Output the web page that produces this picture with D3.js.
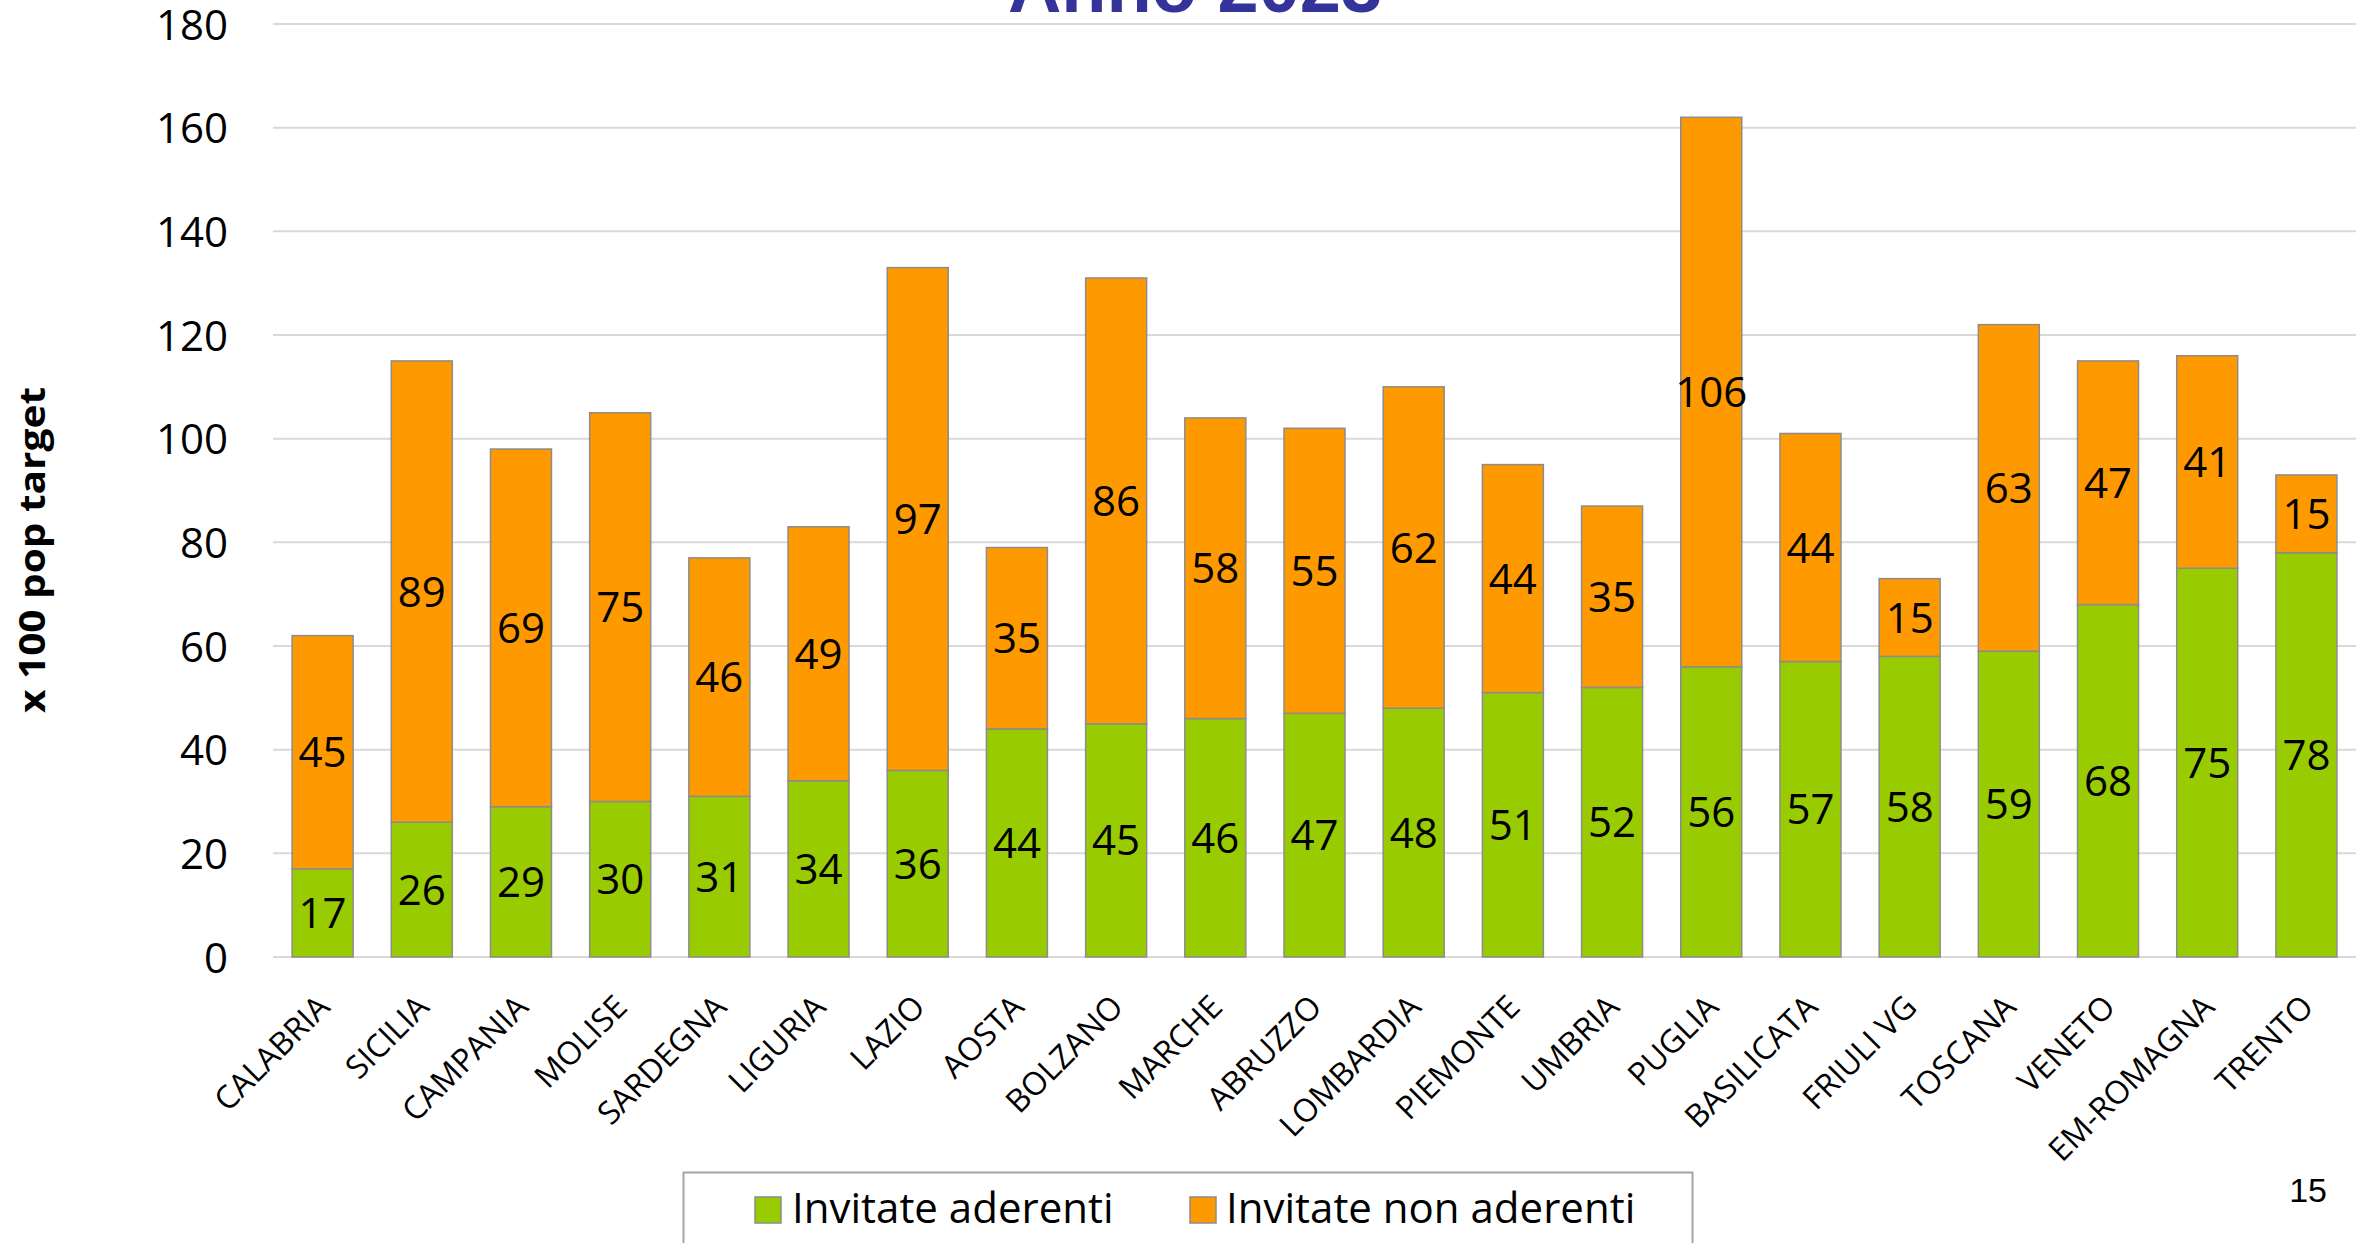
<!DOCTYPE html>
<html>
<head>
<meta charset="utf-8">
<script src="https://cdn.jsdelivr.net/npm/d3@7"></script>
<style>
  html, body { margin: 0; padding: 0; background: #fff; }
  svg { display: block; }
</style>
</head>
<body>
<svg id="chart" width="2371" height="1243"></svg>
<script>
// ---- Data ----
const categories = ["CALABRIA","SICILIA","CAMPANIA","MOLISE","SARDEGNA","LIGURIA","LAZIO","AOSTA","BOLZANO","MARCHE","ABRUZZO","LOMBARDIA","PIEMONTE","UMBRIA","PUGLIA","BASILICATA","FRIULI VG","TOSCANA","VENETO","EM-ROMAGNA","TRENTO"];
const aderenti    = [17,26,29,30,31,34,36,44,45,46,47,48,51,52,56,57,58,59,68,75,78];
const nonAderenti = [45,89,69,75,46,49,97,35,86,58,55,62,44,35,106,44,15,63,47,41,15];
const seriesNames = ["Invitate aderenti","Invitate non aderenti"];
const yTicks = [0,20,40,60,80,100,120,140,160,180];
const titleText = "Anno 2023";
const yTitle = "x 100 pop target";
const pageNumber = "15";

// ---- Layout ----
const W = 2371, H = 1243;
const plot = { left: 273, right: 2356, top: 24, bottom: 957 };
const colors = ["#99cc00", "#ff9900"];
const FONT = "'Open Sans', 'Noto Sans', sans-serif";

const svg = d3.select("#chart");

const x = d3.scaleBand().domain(categories).range([plot.left, plot.right]).paddingInner(0.385).paddingOuter(0.1925);
const y = d3.scaleLinear().domain([0, 180]).range([plot.bottom, plot.top]);

// Title (cut off at top)
svg.append("text")
  .attr("x", 1195).attr("y", 12)
  .attr("text-anchor", "middle")
  .attr("font-family", "'Liberation Sans', Arial, sans-serif")
  .attr("font-weight", "bold")
  .attr("font-size", 74)
  .attr("fill", "#333399")
  .text(titleText);

// Grid lines
svg.append("g").selectAll("line").data(yTicks).join("line")
  .attr("x1", plot.left).attr("x2", plot.right)
  .attr("y1", d => y(d)).attr("y2", d => y(d))
  .attr("stroke", "#d9d9d9").attr("stroke-width", 2);

// Y axis
const yAxis = svg.append("g")
  .attr("transform", `translate(${plot.left - 45},0)`)
  .call(d3.axisLeft(y).tickValues(yTicks).tickSize(0).tickPadding(0));
yAxis.select(".domain").remove();
yAxis.selectAll("text")
  .attr("font-family", FONT).attr("font-size", 42).attr("fill", "#000")
  .attr("dy", "0.36em");

// Y title
svg.append("text")
  .attr("transform", `translate(45,550) rotate(-90)`)
  .attr("text-anchor", "middle")
  .attr("font-family", FONT).attr("font-weight", "bold")
  .attr("font-size", 36)
  .attr("textLength", 326).attr("lengthAdjust", "spacingAndGlyphs")
  .attr("fill", "#000")
  .text(yTitle);

// Stack
const rows = categories.map((c, i) => ({ cat: c, a: aderenti[i], n: nonAderenti[i] }));
const stack = d3.stack().keys(["a", "n"])(rows);

const layers = svg.append("g").selectAll("g").data(stack).join("g")
  .attr("fill", (d, i) => colors[i]);
layers.selectAll("rect").data(d => d).join("rect")
  .attr("x", d => x(d.data.cat))
  .attr("width", x.bandwidth())
  .attr("y", d => y(d[1]))
  .attr("height", d => y(d[0]) - y(d[1]))
  .attr("stroke", "#8c8c8c").attr("stroke-width", 1.5);

// Data labels
const labels = svg.append("g");
stack.forEach(layer => {
  labels.selectAll(null).data(layer).join("text")
    .attr("x", d => x(d.data.cat) + x.bandwidth() / 2)
    .attr("y", d => y((d[0] + d[1]) / 2))
    .attr("dy", "0.36em")
    .attr("text-anchor", "middle")
    .attr("font-family", FONT).attr("font-size", 42).attr("fill", "#000")
    .text(d => d[1] - d[0]);
});

// X labels
svg.append("g").selectAll("text").data(categories).join("text")
  .attr("transform", d => `translate(${x(d) + x.bandwidth() / 2 + 9},${plot.bottom + 52}) rotate(-45)`)
  .attr("text-anchor", "end")
  .attr("font-family", FONT).attr("font-size", 32).attr("fill", "#000")
  .text(d => d);

// Legend
const lg = svg.append("g");
lg.append("rect")
  .attr("x", 683.5).attr("y", 1172.5).attr("width", 1009).attr("height", 120)
  .attr("fill", "#fff").attr("stroke", "#a6a6a6").attr("stroke-width", 2);
const legendItems = [{ x: 755, tx: 792 }, { x: 1190, tx: 1226 }];
seriesNames.forEach((name, i) => {
  lg.append("rect")
    .attr("x", legendItems[i].x).attr("y", 1197).attr("width", 26).attr("height", 26)
    .attr("fill", colors[i]).attr("stroke", "#8c8c8c").attr("stroke-width", 1.5);
  lg.append("text")
    .attr("x", legendItems[i].tx).attr("y", 1223)
    .attr("font-family", FONT).attr("font-size", 42).attr("fill", "#000")
    .text(name);
});

// Page number
svg.append("text")
  .attr("x", 2327).attr("y", 1202)
  .attr("text-anchor", "end")
  .attr("font-family", "'Liberation Sans', Arial, sans-serif")
  .attr("font-size", 34).attr("fill", "#000")
  .text(pageNumber);
</script>
</body>
</html>
